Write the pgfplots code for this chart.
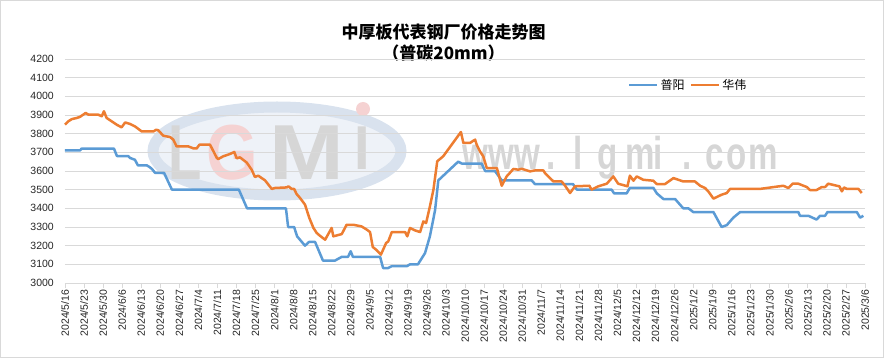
\documentclass[border=0pt]{standalone}
\usepackage{pgfplots}
\pgfplotsset{compat=1.18}
\usepackage{pgfplotstable}
\usepackage{fontspec}
\setmainfont{Liberation Sans}
\newfontfamily\cjk{Noto Sans CJK SC}
\definecolor{pyblue}{HTML}{5B9BD5}
\definecolor{hworange}{HTML}{ED7D31}
\definecolor{gridgray}{HTML}{D9D9D9}
\definecolor{wmgray}{HTML}{D6D6D6}
\definecolor{wmring}{HTML}{D9E2EE}
\definecolor{wmfill}{HTML}{EEF2F8}
\definecolor{wmred}{HTML}{F5D2D2}

\pgfplotstableread{
d v
0 3710
5.5 3710
6.1 3720
18 3720
19.1 3680
23.2 3680
23.9 3670
25.7 3660
26.8 3630
30.1 3630
31.2 3620
32 3610
33.1 3590
36.4 3590
39.3 3500
63.9 3500
66.9 3400
81.2 3400
82 3300
84.2 3300
85.3 3250
88.2 3200
89.7 3220
91.9 3220
94.8 3120
99.2 3120
101.7 3140
104 3140
105 3170
105.8 3140
115.8 3140
116.9 3080
118.7 3080
120.1 3090
125.6 3090
126.8 3100
129.7 3100
132.3 3160
134.1 3250
136 3390
137.2 3550
144.5 3650
145.8 3640
153.1 3640
154.4 3600
158 3600
160.5 3550
171.5 3550
172.7 3530
186.7 3530
188.1 3500
200.9 3500
201.8 3480
206.4 3480
207.6 3510
216.2 3510
217.5 3480
219.9 3450
224.2 3450
227.2 3400
229.1 3400
230.9 3380
238.3 3380
241.3 3300
243.2 3310
245.6 3350
248.1 3380
269.5 3380
270.1 3360
273.2 3360
276.2 3340
277.5 3360
279.3 3360
280.2 3380
291 3380
292.2 3350
293.4 3360
}\puyang

\pgfplotstableread{
d v
0 3848
1.2 3866
2.5 3878
4.3 3884
5.5 3890
6.7 3902
7.6 3911
8.6 3902
12.2 3902
13.5 3893
14.3 3920
15.3 3884
19 3848
20.8 3834
22.1 3860
23.9 3852
25.7 3839
28.2 3812
32.5 3812
33.5 3821
34.3 3818
36.1 3789
38.6 3782
39.8 3768
41 3732
45.3 3732
47.2 3721
48.4 3721
49.4 3741
53.3 3741
55.8 3670
56.3 3664
58.2 3679
60.6 3691
62.2 3702
63.1 3668
64.3 3673
66.8 3645
68.6 3607
69.8 3568
71 3575
73.5 3550
76 3504
77.2 3509
81.5 3512
82.1 3518
83.3 3504
84.2 3504
85.1 3477
86.4 3455
88.2 3420
89.8 3348
91.3 3295
92.5 3268
93.7 3253
95.6 3232
98 3295
98.6 3250
101.7 3262
103.5 3312
106 3312
109 3303
110.9 3286
112.1 3273
113.1 3193
114.6 3175
116.1 3152
118 3214
118.8 3223
120.1 3273
125 3273
125.8 3250
126.8 3295
128.6 3282
130.5 3273
131.7 3330
132.7 3321
134.1 3410
135.4 3500
136.8 3652
139 3679
143.9 3777
145.5 3809
146.4 3750
148.8 3750
150.7 3768
151.3 3741
152.5 3705
153.7 3679
155 3616
158.7 3616
160.5 3521
162.3 3571
164.8 3611
166.6 3607
167.8 3612
170.9 3598
172.7 3603
175.8 3603
176.4 3589
179.5 3544
182.5 3544
183.8 3521
185.6 3482
187.4 3518
192.7 3521
193.5 3500
196 3518
199.1 3532
201.5 3571
203.3 3532
206.7 3518
207.6 3575
208.9 3548
210.1 3571
212.5 3553
216.2 3548
217.5 3530
220.5 3530
223.6 3562
227.2 3544
231.5 3544
233.4 3521
235.2 3509
236.4 3491
238.3 3452
241.3 3473
243.2 3482
244.4 3504
255.4 3504
264 3521
265.8 3509
267.4 3532
269.5 3532
272.6 3514
273.8 3498
276.2 3498
278.1 3514
279.3 3514
280.5 3532
283.6 3521
284.6 3518
285.5 3491
286.3 3512
287.3 3504
291.6 3504
292.8 3482
}\huawei

\begin{document}
\begin{tikzpicture}
\useasboundingbox (-65bp,-75bp) rectangle (822bp,283bp);
\draw[gridgray,line width=0.8bp] (-64.4bp,-74.4bp) rectangle (818bp,282.4bp);
% watermark (logo and site address)
\draw[wmring,line width=11bp,fill=wmfill] (212bp,132bp) ellipse [x radius=124bp, y radius=44bp];
\node[anchor=base,text=wmgray,font=\bfseries\fontsize{78bp}{80bp}\selectfont,xscale=0.7] at (120bp,103bp) {L};
\node[anchor=base,text=wmred,font=\bfseries\fontsize{78bp}{80bp}\selectfont,xscale=0.85] at (167bp,103bp) {G};
\node[anchor=base,text=wmgray,font=\bfseries\fontsize{78bp}{80bp}\selectfont,xscale=1.15] at (242bp,103bp) {M};
\node[anchor=base,text=wmgray,font=\bfseries\fontsize{62bp}{64bp}\selectfont,xscale=0.9] at (297bp,113bp) {I};
\fill[wmred] (298bp,174bp) circle (7bp);
\foreach \c/\px in {w/475,w/501,w/527,./551,l/578,g/608,m/640,i/658,./687,c/715,o/737,m/763}{
  \node[anchor=base,text=wmgray,font=\bfseries\fontsize{46bp}{48bp}\selectfont,xscale=0.72,inner sep=0pt] at (\px bp-65bp,113bp) {\c};
}
% titles
\node[font=\cjk\bfseries\fontsize{17bp}{20bp}\selectfont] at (378.5bp,251bp) {中厚板代表钢厂价格走势图};
\node[font=\cjk\bfseries\fontsize{17bp}{20bp}\selectfont] at (378.5bp,230bp) {（普碳20mm）};
\begin{axis}[
  at={(0,0)}, anchor=south west,
  scale only axis, width=800bp, height=224bp,
  xmin=0, xmax=294, ymin=3000, ymax=4200,
  ytick={3000,3100,...,4200},
  xtick={0,7,...,294},
  xticklabels={2024/5/16,2024/5/23,2024/5/30,2024/6/6,2024/6/13,2024/6/20,2024/6/27,2024/7/4,2024/7/11,2024/7/18,2024/7/25,2024/8/1,2024/8/8,2024/8/15,2024/8/22,2024/8/29,2024/9/5,2024/9/12,2024/9/19,2024/9/26,2024/10/3,2024/10/10,2024/10/17,2024/10/24,2024/10/31,2024/11/7,2024/11/14,2024/11/21,2024/11/28,2024/12/5,2024/12/12,2024/12/19,2024/12/26,2025/1/2,2025/1/9,2025/1/16,2025/1/23,2025/1/30,2025/2/6,2025/2/13,2025/2/20,2025/2/27,2025/3/6},
  axis line style={draw=none},
  ymajorgrids, grid style={gridgray,line width=0.8bp},
  xtick pos=bottom, ytick pos=left,
  tick align=outside,
  xtick style={gridgray,line width=0.8bp},
  ytick style={draw=none},
  major tick length=5bp,
  xticklabel style={rotate=90,anchor=east,font=\fontsize{10.5bp}{12bp}\selectfont,text=black!85,inner sep=1.5bp},
  yticklabel style={font=\fontsize{10.5bp}{12bp}\selectfont,text=black!85,inner sep=2bp,xshift=-4bp},
  /pgf/number format/1000 sep={},
  /pgf/number format/assume math mode=true,
  legend style={at={(0.779,0.884)},anchor=center,draw=none,fill=none,
    legend columns=2,font=\cjk\fontsize{12bp}{14bp}\selectfont,
    /tikz/every even column/.append style={column sep=3bp},
    inner sep=0pt},
  legend image code/.code={\draw[#1,line width=2.6bp] (0bp,0bp) -- (28bp,0bp);},
  clip=false,
]
\draw[gridgray,line width=0.8bp] (axis cs:0,3000) -- (axis cs:294,3000);
\addplot[pyblue,line width=2.5bp,no markers,line join=round] table[x=d,y=v] {\puyang};
\addlegendentry{普阳}
\addplot[hworange,line width=2.5bp,no markers,line join=round] table[x=d,y=v] {\huawei};
\addlegendentry{华伟}
\end{axis}
\end{tikzpicture}
\end{document}
